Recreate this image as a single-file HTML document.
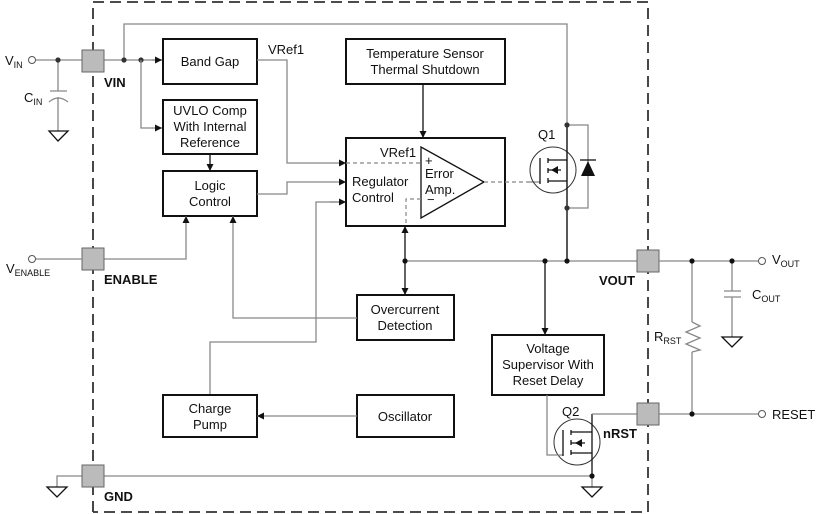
<!DOCTYPE html>
<html><head><style>
body{margin:0;background:#fff}
svg{display:block}
text{font-family:"Liberation Sans",Arial,sans-serif;font-size:13px;fill:#111}
.b{font-weight:bold}
.k{stroke:#111;stroke-width:1.3;fill:none}
.g{stroke:#888;stroke-width:1.3;fill:none}
.box{stroke:#111;stroke-width:2;fill:#fff}
.pin{fill:#bbb;stroke:#666;stroke-width:1}
.d{stroke:#888;stroke-width:1.2;fill:none;stroke-dasharray:4,3}
</style></head><body>
<svg width="820" height="514" viewBox="0 0 820 514">
<defs>
<marker id="a" viewBox="0 0 10 10" refX="10" refY="5" markerWidth="7" markerHeight="7" orient="auto" markerUnits="userSpaceOnUse"><path d="M0,0L10,5L0,10z" fill="#111"/></marker>
</defs>
<!-- boundary -->
<path d="M93,512V2H648V512H93" stroke="#333" stroke-width="1.8" fill="none" stroke-dasharray="11,6"/>

<!-- VIN input -->
<circle cx="32" cy="60" r="3.5" fill="#fff" stroke="#555"/>
<path class="g" d="M36,60H82M58,60V91M58,97V131M50,91H67M104,60H162"/>
<path class="g" d="M49,102Q58,94 68,102"/>
<path class="k" d="M49,131H68L58,141Z" fill="#fff"/>
<circle cx="58" cy="60" r="2.6" fill="#333"/>
<text x="5" y="65">V<tspan font-size="9" dy="3">IN</tspan></text>
<text x="24" y="102">C<tspan font-size="9" dy="3">IN</tspan></text>
<path class="g" d="M124,60V24H567V261"/>
<circle cx="124" cy="60" r="2.6" fill="#333"/><circle cx="141" cy="60" r="2.6" fill="#333"/>
<path class="g" d="M152,60H162" marker-end="url(#a)"/>
<path class="g" d="M141,60V128H162" marker-end="url(#a)"/>

<!-- boxes -->
<rect class="box" x="163" y="39" width="94" height="45"/>
<text x="210" y="66" text-anchor="middle">Band Gap</text>
<rect class="box" x="163" y="100" width="94" height="54"/>
<text x="210" y="115" text-anchor="middle">UVLO Comp</text>
<text x="210" y="131" text-anchor="middle">With Internal</text>
<text x="210" y="147" text-anchor="middle">Reference</text>
<path class="k" d="M210,154V171" marker-end="url(#a)"/>
<rect class="box" x="163" y="171" width="94" height="45"/>
<text x="210" y="190" text-anchor="middle">Logic</text>
<text x="210" y="206" text-anchor="middle">Control</text>
<text x="268" y="54">VRef1</text>
<path class="g" d="M257,60H287V163H346" marker-end="url(#a)"/>
<path class="g" d="M257,194H287V182H346" marker-end="url(#a)"/>
<path class="g" d="M346,202H316V342H210V395"/>
<path class="g" d="M346,202H316" marker-start="url(#a)" style="display:none"/>
<path class="g" d="M330,202H346" marker-end="url(#a)"/>

<rect class="box" x="346" y="39" width="159" height="45"/>
<text x="425" y="58" text-anchor="middle">Temperature Sensor</text>
<text x="425" y="74" text-anchor="middle">Thermal Shutdown</text>
<path class="k" d="M423,84V138" marker-end="url(#a)"/>

<rect class="box" x="346" y="138" width="159" height="88"/>
<text x="380" y="157">VRef1</text>
<text x="352" y="186">Regulator</text>
<text x="352" y="202">Control</text>
<path class="k" d="M421,147V218L484,182Z" fill="#fff" stroke-width="1"/>
<path class="d" d="M346,163H421M421,199H406V226M484,182H528"/>
<text x="425" y="165">+</text>
<text x="425" y="178">Error</text>
<text x="425" y="194">Amp.</text>
<text x="427" y="204">−</text>
<path class="g" d="M528,182H540"/>

<!-- Q1 -->
<circle cx="553" cy="170" r="23" fill="none" stroke="#333" stroke-width="1"/>
<text x="538" y="139">Q1</text>
<path class="k" d="M540,158V184M548,158V163M548,168V173M548,178V183M548,160H567M548,181H567M548,170H561M567,125V261" stroke-width="1.2"/>
<path d="M551,170L558,166V174Z" fill="#111"/>
<path class="g" d="M567,125H588V208H567"/>
<path d="M581,176L588,161L595,176Z" fill="#111"/>
<path class="k" d="M580,160H596"/>
<circle cx="567" cy="125" r="2.6" fill="#333"/><circle cx="567" cy="208" r="2.6" fill="#333"/>

<!-- output bus -->
<path class="g" d="M405,261H637"/>
<path class="k" d="M405,261V226" marker-end="url(#a)"/>
<path class="k" d="M405,261V295" marker-end="url(#a)"/>
<path class="k" d="M545,261V335" marker-end="url(#a)"/>
<circle cx="405" cy="261" r="2.6" fill="#111"/><circle cx="545" cy="261" r="2.6" fill="#111"/><circle cx="567" cy="261" r="2.6" fill="#111"/>

<rect class="box" x="357" y="295" width="97" height="45"/>
<text x="405" y="314" text-anchor="middle">Overcurrent</text>
<text x="405" y="330" text-anchor="middle">Detection</text>
<path class="g" d="M357,318H233V230"/>
<path class="g" d="M233,230V216" marker-end="url(#a)"/>
<path class="g" d="M104,259H186V230"/>
<path class="g" d="M186,230V216" marker-end="url(#a)"/>

<rect class="box" x="163" y="395" width="94" height="42"/>
<text x="210" y="413" text-anchor="middle">Charge</text>
<text x="210" y="429" text-anchor="middle">Pump</text>
<rect class="box" x="357" y="395" width="97" height="42"/>
<text x="405" y="421" text-anchor="middle">Oscillator</text>
<path class="g" d="M357,416H257" marker-end="url(#a)"/>

<rect class="box" x="492" y="335" width="112" height="60"/>
<text x="548" y="353" text-anchor="middle">Voltage</text>
<text x="548" y="369" text-anchor="middle">Supervisor With</text>
<text x="548" y="385" text-anchor="middle">Reset Delay</text>

<!-- Q2 -->
<circle cx="577" cy="442" r="23" fill="none" stroke="#333" stroke-width="1"/>
<text x="562" y="416">Q2</text>
<path class="g" d="M547,395V455H563"/>
<path class="k" d="M563,430V456M571,430V435M571,440V445M571,450V455M571,432H592M571,453H592M571,443H585M592,414V476" stroke-width="1.2"/>
<path d="M575,443L582,439V447Z" fill="#111"/>
<path class="g" d="M592,414H637"/>
<path class="g" d="M104,476H592V487"/>
<circle cx="592" cy="476" r="2.6" fill="#111"/>
<path class="k" d="M582,487H602L592,497Z" fill="#fff"/>

<!-- GND -->
<path class="g" d="M82,476H57V487"/>
<path class="k" d="M47,487H67L57,497Z" fill="#fff"/>

<!-- pins -->
<rect class="pin" x="82" y="50" width="22" height="22"/>
<rect class="pin" x="82" y="248" width="22" height="22"/>
<rect class="pin" x="82" y="465" width="22" height="22"/>
<rect class="pin" x="637" y="250" width="22" height="22"/>
<rect class="pin" x="637" y="403" width="22" height="22"/>
<text x="104" y="87" class="b">VIN</text>
<text x="104" y="284" class="b">ENABLE</text>
<text x="104" y="501" class="b">GND</text>
<text x="599" y="285" class="b">VOUT</text>
<text x="603" y="438" class="b">nRST</text>

<!-- ENABLE input -->
<circle cx="32" cy="259" r="3.5" fill="#fff" stroke="#555"/>
<path class="g" d="M36,259H82"/>
<text x="6" y="273">V<tspan font-size="9" dy="3">ENABLE</tspan></text>

<!-- right external -->
<path class="g" d="M659,261H758M692,261V322M692,352V414M659,414H758M732,261V291M732,297V337M724,291H741M724,297H741"/>
<path class="g" d="M692,322L700,326L686,332L700,338L686,344L700,350L692,352"/>
<path class="k" d="M722,337H742L732,347Z" fill="#fff"/>
<circle cx="692" cy="261" r="2.6" fill="#111"/><circle cx="732" cy="261" r="2.6" fill="#111"/><circle cx="692" cy="414" r="2.6" fill="#111"/>
<circle cx="762" cy="261" r="3.5" fill="#fff" stroke="#555"/>
<circle cx="762" cy="414" r="3.5" fill="#fff" stroke="#555"/>
<text x="772" y="264">V<tspan font-size="9" dy="3">OUT</tspan></text>
<text x="752" y="299">C<tspan font-size="9" dy="3">OUT</tspan></text>
<text x="654" y="341">R<tspan font-size="9" dy="3">RST</tspan></text>
<text x="772" y="419">RESET</text>
</svg>
</body></html>
